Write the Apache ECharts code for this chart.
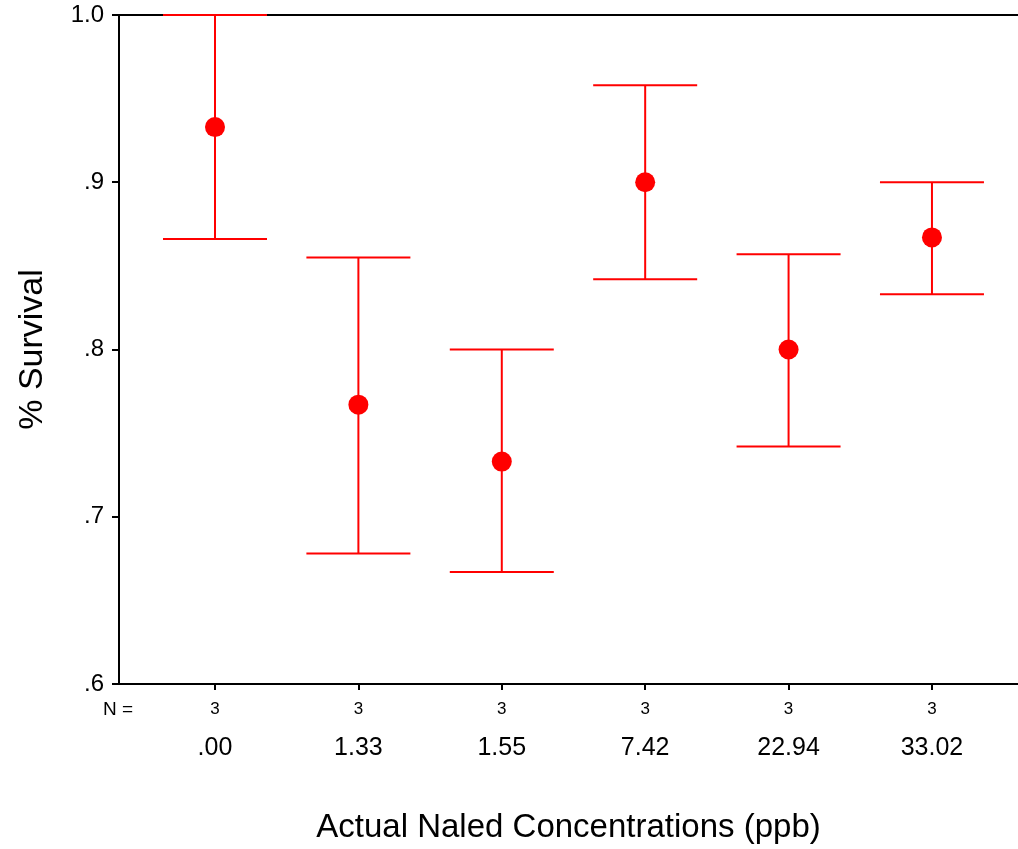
<!DOCTYPE html>
<html>
<head>
<meta charset="utf-8">
<script src="https://cdn.jsdelivr.net/npm/echarts@6/dist/echarts.min.js"></script>
<style>
html,body{margin:0;padding:0;background:#fff;}
#chart{width:1018px;height:849px;}
</style>
</head>
<body>
<div id="chart"></div>
<script>
var categories = ['.00', '1.33', '1.55', '7.42', '22.94', '33.02'];
var nCounts = [3, 3, 3, 3, 3, 3];
var means = [0.933, 0.767, 0.733, 0.900, 0.800, 0.867];
var upper = [1.000, 0.855, 0.800, 0.958, 0.857, 0.900];
var lower = [0.866, 0.678, 0.667, 0.842, 0.742, 0.833];
var yTicks = [0.6, 0.7, 0.8, 0.9, 1.0];
var yTickLabels = ['.6', '.7', '.8', '.9', '1.0'];

var FONT = 'Liberation Sans, Arial, sans-serif';
var RED = '#ff0000';
var positions = categories.map(function (c, i) { return i + 1; });

var chart = echarts.init(document.getElementById('chart'));

var errData = categories.map(function (c, i) { return [positions[i], lower[i], upper[i]]; });
var meanData = categories.map(function (c, i) { return [positions[i], means[i]]; });

function yFmt(v) {
  for (var k = 0; k < yTicks.length; k++) {
    if (Math.abs(v - yTicks[k]) < 1e-6) return yTickLabels[k];
  }
  return '';
}

var option = {
  backgroundColor: '#ffffff',
  animation: false,
  grid: { left: 119, right: 0, top: 15, bottom: 163, containLabel: false },
  xAxis: [
    {
      type: 'value', position: 'bottom', min: 0.3305, max: 6.6,
      axisLine: { show: true, lineStyle: { color: '#000', width: 2 } },
      axisTick: { show: true, customValues: positions, length: 6, inside: false, lineStyle: { color: '#000', width: 2 } },
      axisLabel: {
        show: true, customValues: positions, margin: 17,
        fontFamily: FONT, fontSize: 17, color: '#000',
        formatter: function (v) { return String(nCounts[Math.round(v) - 1]); }
      },
      splitLine: { show: false }
    },
    {
      type: 'value', position: 'bottom', min: 0.3305, max: 6.6,
      axisLine: { show: false },
      axisTick: { show: false },
      axisLabel: {
        show: true, customValues: positions, margin: 52,
        fontFamily: FONT, fontSize: 25, color: '#000',
        formatter: function (v) { return categories[Math.round(v) - 1]; }
      },
      splitLine: { show: false },
      name: 'Actual Naled Concentrations (ppb)',
      nameLocation: 'middle', nameGap: 127,
      nameTextStyle: { fontFamily: FONT, fontSize: 33, color: '#000' }
    },
    {
      type: 'value', position: 'top', min: 0.3305, max: 6.6,
      axisLine: { show: true, lineStyle: { color: '#000', width: 2 } },
      axisTick: { show: false }, axisLabel: { show: false }, splitLine: { show: false }
    }
  ],
  yAxis: {
    type: 'value', min: 0.6, max: 1.0, interval: 0.1,
    axisLine: { show: true, lineStyle: { color: '#000', width: 2 } },
    axisTick: { show: true, length: 7, lineStyle: { color: '#000', width: 2 } },
    axisLabel: { margin: 15, fontFamily: FONT, fontSize: 24, color: '#000', formatter: yFmt },
    splitLine: { show: false },
    name: '% Survival', nameLocation: 'middle', nameGap: 69,
    nameTextStyle: { fontFamily: FONT, fontSize: 34, color: '#000' }
  },
  series: [
    {
      type: 'custom',
      xAxisIndex: 0,
      clip: false,
      data: errData,
      renderItem: function (params, api) {
        var x = api.value(0);
        var lo = api.coord([x, api.value(1)]);
        var hi = api.coord([x, api.value(2)]);
        var hw = 52;
        var st = { stroke: RED, lineWidth: 2 };
        return {
          type: 'group',
          children: [
            { type: 'line', shape: { x1: lo[0], y1: lo[1], x2: hi[0], y2: hi[1] }, style: st },
            { type: 'line', shape: { x1: hi[0] - hw, y1: hi[1], x2: hi[0] + hw, y2: hi[1] }, style: st },
            { type: 'line', shape: { x1: lo[0] - hw, y1: lo[1], x2: lo[0] + hw, y2: lo[1] }, style: st }
          ]
        };
      },
      z: 10
    },
    {
      type: 'scatter',
      xAxisIndex: 0,
      data: meanData,
      symbol: 'circle',
      symbolSize: 20,
      itemStyle: { color: RED, opacity: 1 },
      z: 11
    }
  ],
  graphic: [
    {
      type: 'text', left: 103, top: 700,
      style: { text: 'N =', fontFamily: FONT, fontSize: 19, fill: '#000' }
    }
  ]
};

chart.setOption(option);
</script>
</body>
</html>
